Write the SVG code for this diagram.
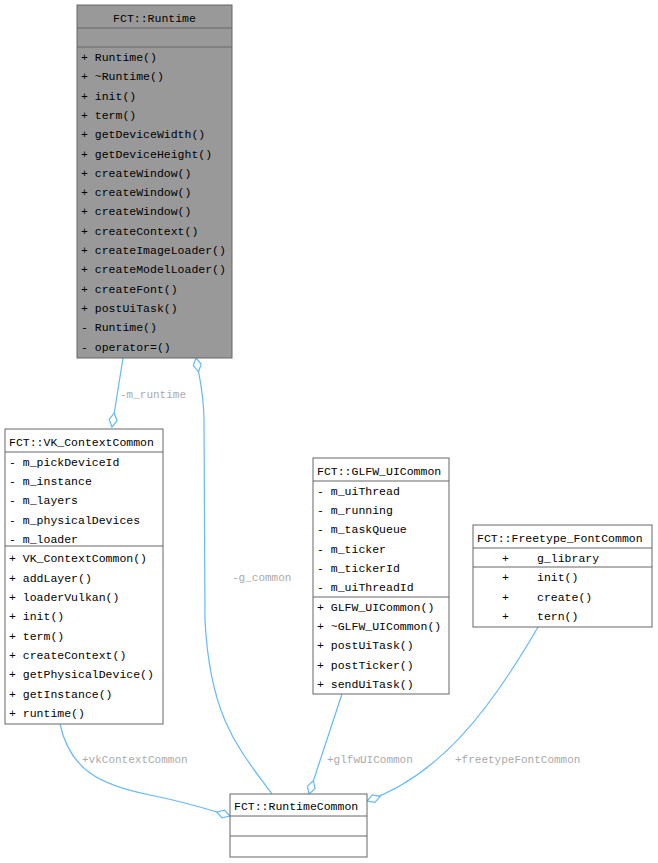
<svg xmlns="http://www.w3.org/2000/svg" width="658" height="863" viewBox="0 0 658 863">
<style>
text{font-family:"Liberation Mono","DejaVu Sans Mono",monospace;font-size:11.5px;fill:#000}
.b{fill:#fff;stroke:#666;stroke-width:1}
.g{fill:#999;stroke:#666;stroke-width:1}
.c{fill:none;stroke:#63b8ff;stroke-width:1.2}
.l{fill:#aaa;font-size:11px}
</style>
<defs>
<marker id="d" viewBox="0 0 16 10" refX="15" refY="5" markerWidth="16" markerHeight="10" markerUnits="userSpaceOnUse" orient="auto">
<path d="M1,5 L8,1 L15,5 L8,9 Z" fill="#fff" stroke="#63b8ff" stroke-width="1.2"/>
</marker>
</defs>
<g id="connectors">
<path class="c" d="M123,358 L112,427" marker-end="url(#d)"/>
<text class="l" x="120" y="398">-m_runtime</text>
<path class="c" d="M272,794 C240,750 210,720 205,620 L204,420 C204,395 200,380 196,358" marker-end="url(#d)"/>
<text class="l" x="232" y="581">-g_common</text>
<path class="c" d="M60,724 C70,770 100,785 150,795 C190,803 210,810 230,816" marker-end="url(#d)"/>
<text class="l" x="82" y="763">+vkContextCommon</text>
<path class="c" d="M342,694 L309,794" marker-end="url(#d)"/>
<text class="l" x="327" y="763">+glfwUICommon</text>
<path class="c" d="M538,627 C490,710 440,775 367,801" marker-end="url(#d)"/>
<text class="l" x="455" y="763">+freetypeFontCommon</text>
</g>
<g id="Runtime">
<rect class="g" x="77" y="5" width="155" height="353"/>
<line class="g" x1="77" y1="28" x2="232" y2="28"/>
<line class="g" x1="77" y1="47" x2="232" y2="47"/>
<text x="154.5" y="22" text-anchor="middle">FCT::Runtime</text>
<text x="81" y="61">+ Runtime()</text>
<text x="81" y="80">+ ~Runtime()</text>
<text x="81" y="100">+ init()</text>
<text x="81" y="119">+ term()</text>
<text x="81" y="138">+ getDeviceWidth()</text>
<text x="81" y="158">+ getDeviceHeight()</text>
<text x="81" y="177">+ createWindow()</text>
<text x="81" y="196">+ createWindow()</text>
<text x="81" y="215">+ createWindow()</text>
<text x="81" y="235">+ createContext()</text>
<text x="81" y="254">+ createImageLoader()</text>
<text x="81" y="273">+ createModelLoader()</text>
<text x="81" y="293">+ createFont()</text>
<text x="81" y="312">+ postUiTask()</text>
<text x="81" y="331">- Runtime()</text>
<text x="81" y="351">- operator=()</text>
</g>
<g id="VK_ContextCommon">
<rect class="b" x="5" y="429" width="158" height="295"/>
<line class="b" x1="5" y1="452" x2="163" y2="452"/>
<line class="b" x1="5" y1="546" x2="163" y2="546"/>
<text x="9" y="446">FCT::VK_ContextCommon</text>
<text x="9" y="466">- m_pickDeviceId</text>
<text x="9" y="485">- m_instance</text>
<text x="9" y="504">- m_layers</text>
<text x="9" y="524">- m_physicalDevices</text>
<text x="9" y="543">- m_loader</text>
<text x="9" y="562">+ VK_ContextCommon()</text>
<text x="9" y="582">+ addLayer()</text>
<text x="9" y="601">+ loaderVulkan()</text>
<text x="9" y="620">+ init()</text>
<text x="9" y="640">+ term()</text>
<text x="9" y="659">+ createContext()</text>
<text x="9" y="678">+ getPhysicalDevice()</text>
<text x="9" y="698">+ getInstance()</text>
<text x="9" y="717">+ runtime()</text>
</g>
<g id="GLFW_UICommon">
<rect class="b" x="313" y="458" width="136" height="236"/>
<line class="b" x1="313" y1="481" x2="449" y2="481"/>
<line class="b" x1="313" y1="597" x2="449" y2="597"/>
<text x="317" y="475">FCT::GLFW_UICommon</text>
<text x="317" y="495">- m_uiThread</text>
<text x="317" y="514">- m_running</text>
<text x="317" y="533">- m_taskQueue</text>
<text x="317" y="553">- m_ticker</text>
<text x="317" y="572">- m_tickerId</text>
<text x="317" y="591">- m_uiThreadId</text>
<text x="317" y="611">+ GLFW_UICommon()</text>
<text x="317" y="630">+ ~GLFW_UICommon()</text>
<text x="317" y="649">+ postUiTask()</text>
<text x="317" y="669">+ postTicker()</text>
<text x="317" y="688">+ sendUiTask()</text>
</g>
<g id="Freetype_FontCommon">
<rect class="b" x="473" y="525" width="179" height="102"/>
<line class="b" x1="473" y1="548" x2="652" y2="548"/>
<line class="b" x1="473" y1="567" x2="652" y2="567"/>
<text x="477" y="542">FCT::Freetype_FontCommon</text>
<text x="502" y="562">+</text><text x="537" y="562">g_library</text>
<text x="502" y="581">+</text><text x="537" y="581">init()</text>
<text x="502" y="601">+</text><text x="537" y="601">create()</text>
<text x="502" y="620">+</text><text x="537" y="620">tern()</text>
</g>
<g id="RuntimeCommon">
<rect class="b" x="230" y="794" width="137" height="63"/>
<line class="b" x1="230" y1="816" x2="367" y2="816"/>
<line class="b" x1="230" y1="836" x2="367" y2="836"/>
<text x="234" y="810">FCT::RuntimeCommon</text>
</g>
</svg>
